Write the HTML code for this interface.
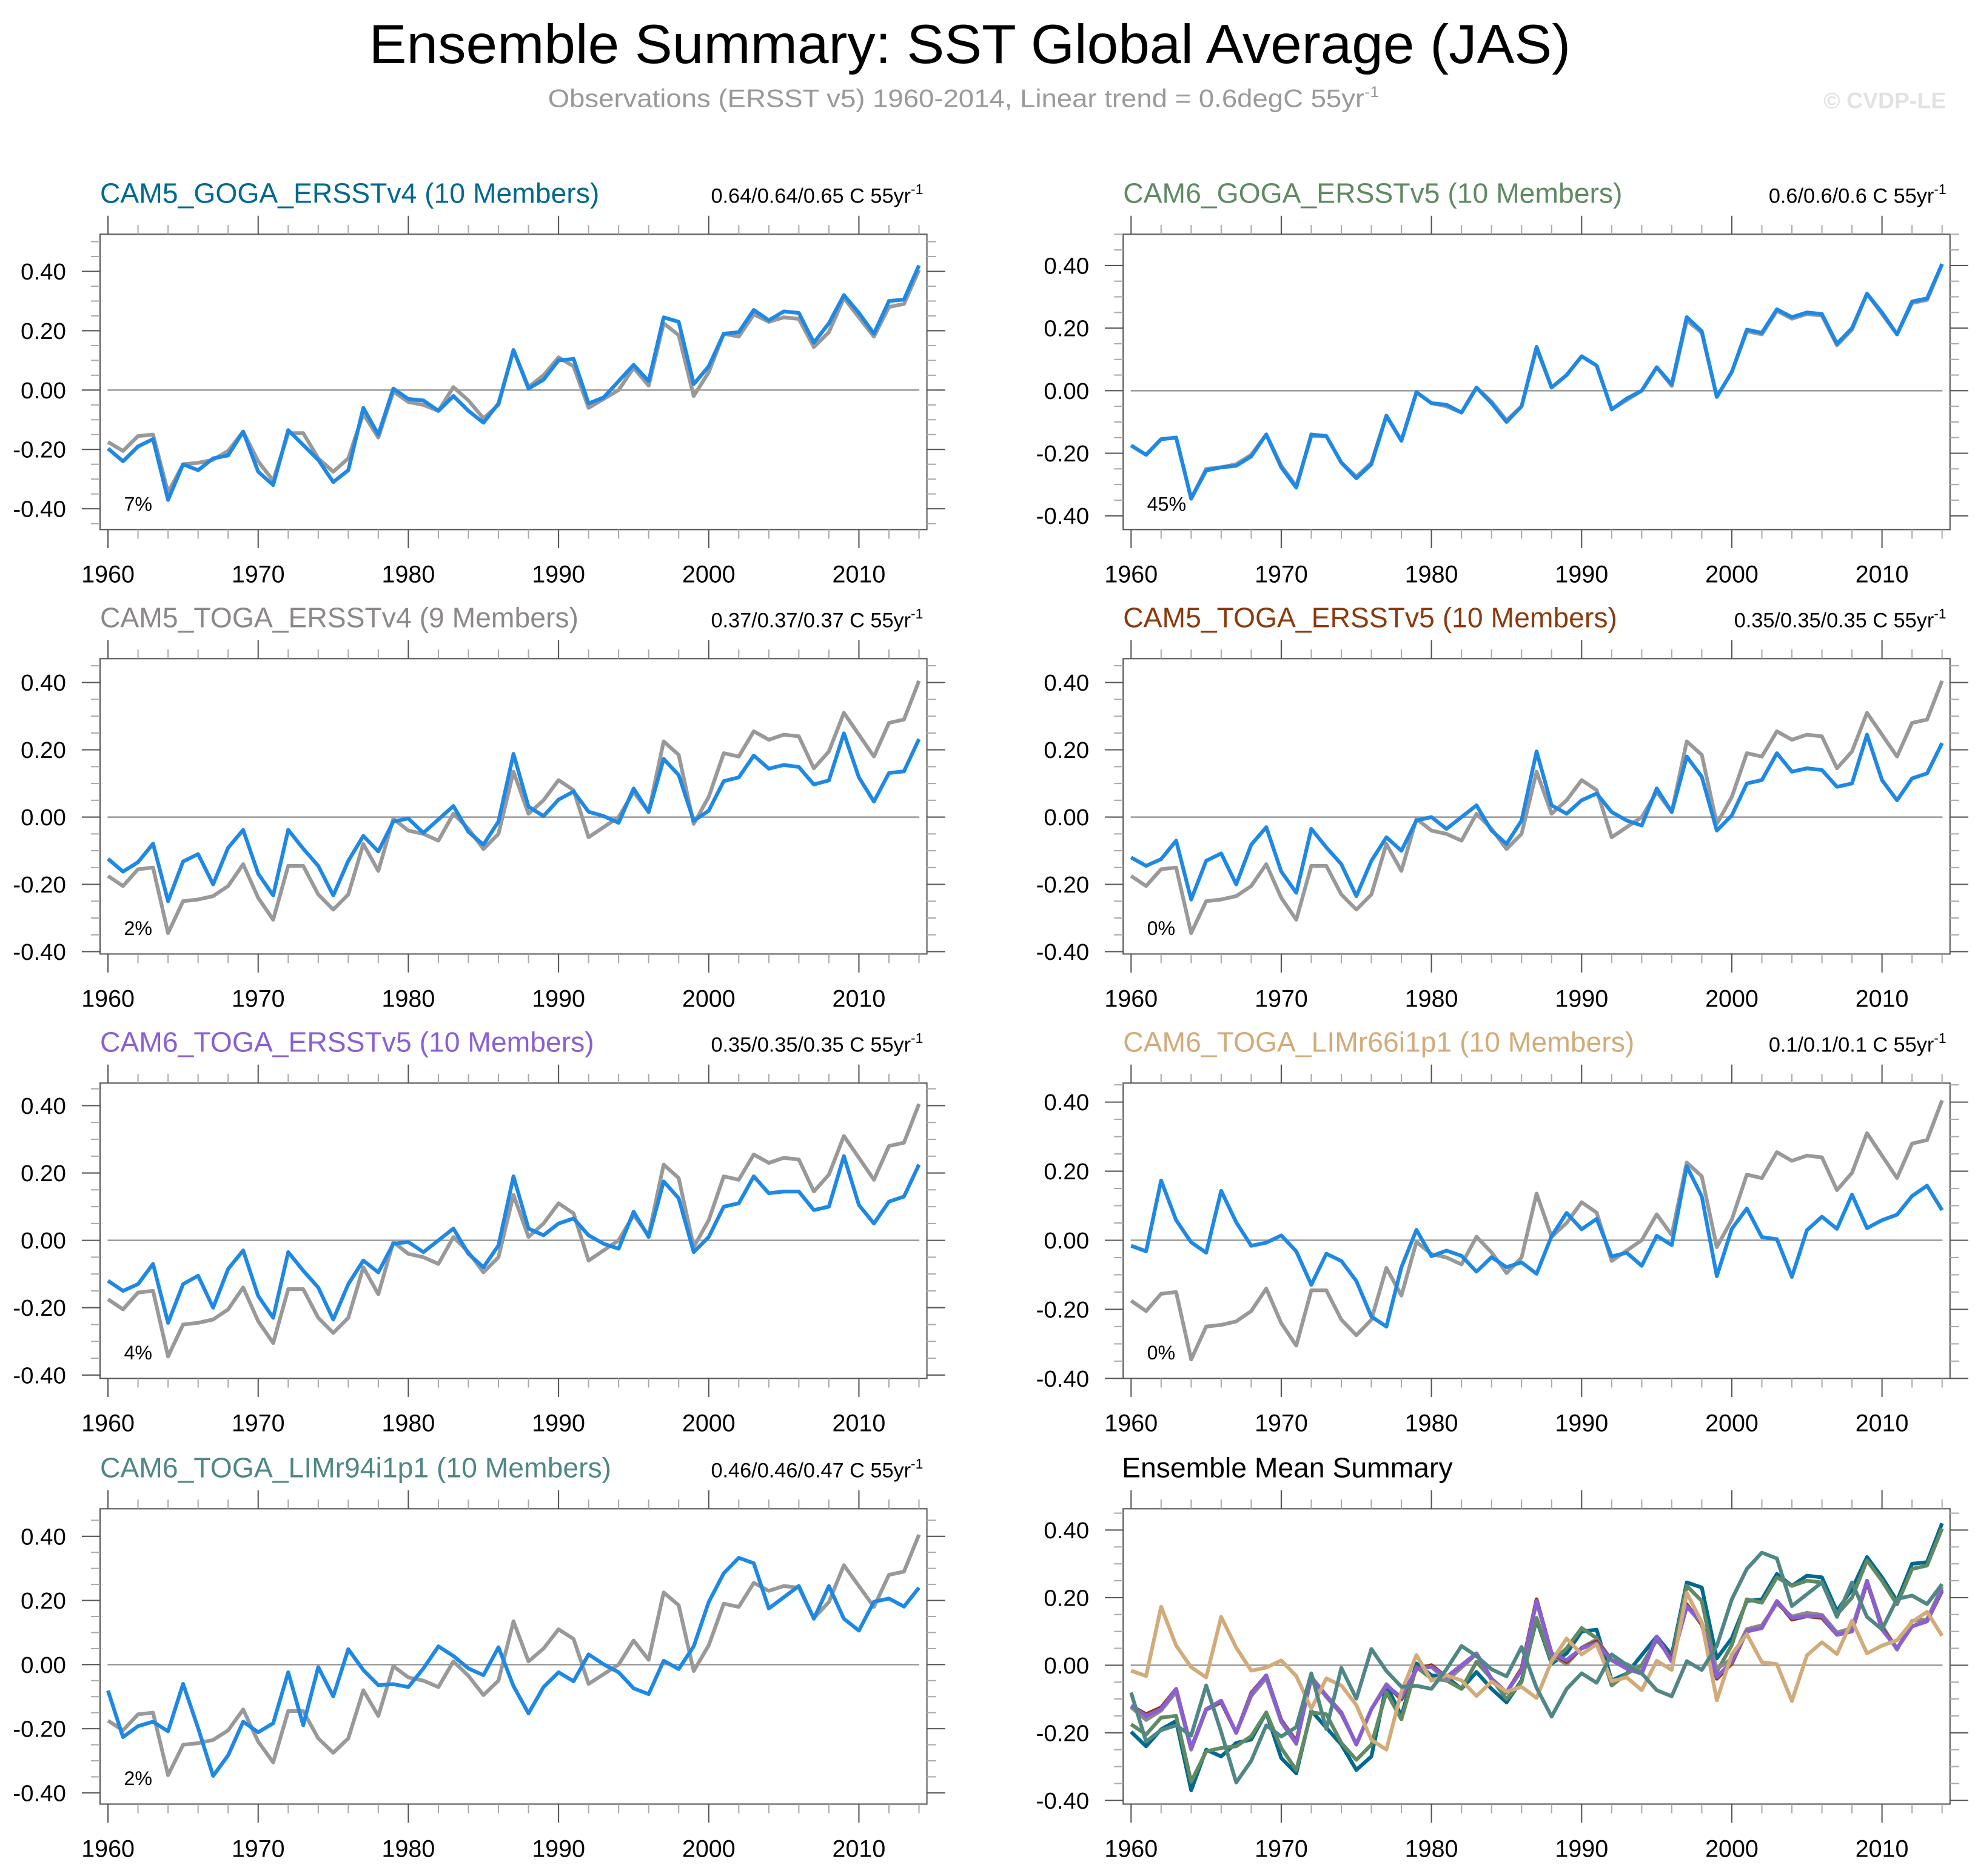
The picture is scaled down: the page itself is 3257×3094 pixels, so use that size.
<!DOCTYPE html>
<html><head><meta charset="utf-8"><style>
html,body{margin:0;padding:0;background:#fff}
svg{display:block}
text{font-family:"Liberation Sans",Arial,sans-serif}
</style></head><body>
<svg id="chart" width="3257" height="3094" viewBox="0 0 1568 1489.6" xmlns="http://www.w3.org/2000/svg">
<rect x="0" y="0" width="1568" height="1489.6" fill="#fff"/>
<text x="770" y="50" font-size="44" text-anchor="middle" textLength="954" lengthAdjust="spacingAndGlyphs">Ensemble Summary: SST Global Average (JAS)</text>
<text x="435" y="85" font-size="20" fill="#999" textLength="660" lengthAdjust="spacingAndGlyphs">Observations (ERSST v5) 1960-2014, Linear trend = 0.6degC 55yr<tspan dy="-8" font-size="12">-1</tspan></text>
<text x="1545" y="86" font-size="18" font-weight="bold" fill="#e2e2e2" text-anchor="end">© CVDP-LE</text>
<g id="panels"></g>
</svg>
<script>
const years = [];
for (let y = 1960; y <= 2014; y++) years.push(y);

const obsValues = [-0.175,-0.205,-0.155,-0.15,-0.345,-0.25,-0.245,-0.235,-0.205,-0.14,-0.24,-0.305,-0.145,-0.145,-0.23,-0.275,-0.23,-0.08,-0.16,-0.005,-0.04,-0.05,-0.07,0.01,-0.035,-0.095,-0.05,0.135,0.01,0.05,0.11,0.08,-0.06,-0.03,0.0,0.075,0.015,0.225,0.185,-0.02,0.06,0.19,0.18,0.255,0.23,0.245,0.24,0.145,0.195,0.31,0.245,0.18,0.28,0.29,0.405];

const cam5GogaV4 = [-0.197,-0.24,-0.19,-0.165,-0.37,-0.25,-0.27,-0.23,-0.22,-0.14,-0.275,-0.32,-0.135,-0.185,-0.235,-0.31,-0.27,-0.06,-0.15,0.005,-0.03,-0.035,-0.07,-0.02,-0.07,-0.11,-0.045,0.135,0.005,0.035,0.1,0.105,-0.045,-0.025,0.03,0.085,0.03,0.245,0.23,0.02,0.08,0.19,0.195,0.27,0.235,0.265,0.26,0.16,0.225,0.32,0.26,0.19,0.3,0.305,0.42];

const cam6GogaV5 = [-0.175,-0.205,-0.155,-0.15,-0.345,-0.255,-0.245,-0.24,-0.21,-0.14,-0.245,-0.31,-0.14,-0.145,-0.23,-0.28,-0.235,-0.08,-0.16,-0.005,-0.04,-0.045,-0.07,0.01,-0.04,-0.1,-0.05,0.14,0.01,0.05,0.11,0.08,-0.06,-0.025,0.0,0.075,0.02,0.235,0.19,-0.02,0.06,0.195,0.185,0.26,0.235,0.25,0.245,0.15,0.2,0.31,0.25,0.18,0.285,0.295,0.405];

const cam5TogaV4 = [-0.124,-0.162,-0.134,-0.079,-0.25,-0.132,-0.11,-0.2,-0.091,-0.038,-0.168,-0.233,-0.038,-0.094,-0.145,-0.233,-0.13,-0.056,-0.102,-0.013,-0.004,-0.047,-0.007,0.033,-0.044,-0.082,-0.013,0.188,0.031,0.003,0.052,0.076,0.016,0.003,-0.017,0.085,0.015,0.173,0.125,-0.011,0.019,0.107,0.118,0.183,0.144,0.155,0.149,0.097,0.109,0.249,0.118,0.046,0.131,0.136,0.232];

const cam5TogaV5 = [-0.12,-0.145,-0.125,-0.07,-0.245,-0.13,-0.108,-0.2,-0.082,-0.03,-0.162,-0.225,-0.035,-0.09,-0.14,-0.235,-0.13,-0.06,-0.1,-0.01,0.0,-0.035,0.0,0.035,-0.04,-0.08,-0.01,0.195,0.035,0.01,0.05,0.07,0.015,-0.01,-0.025,0.085,0.015,0.18,0.12,-0.04,0.005,0.1,0.11,0.19,0.135,0.145,0.14,0.09,0.1,0.245,0.11,0.05,0.115,0.13,0.22];

const cam6TogaV5 = [-0.12,-0.15,-0.13,-0.07,-0.245,-0.13,-0.105,-0.2,-0.085,-0.03,-0.165,-0.23,-0.035,-0.09,-0.14,-0.235,-0.13,-0.06,-0.095,-0.01,-0.005,-0.035,0.0,0.035,-0.04,-0.08,-0.015,0.19,0.035,0.015,0.05,0.065,0.015,-0.01,-0.025,0.085,0.01,0.175,0.125,-0.035,0.01,0.1,0.11,0.19,0.14,0.145,0.145,0.09,0.1,0.25,0.105,0.05,0.115,0.13,0.225];

const limR66 = [-0.016,-0.032,0.173,0.058,-0.006,-0.036,0.143,0.052,-0.016,-0.007,0.014,-0.032,-0.129,-0.039,-0.06,-0.118,-0.221,-0.25,-0.078,0.03,-0.046,-0.03,-0.045,-0.091,-0.049,-0.078,-0.064,-0.097,0.012,0.079,0.032,0.062,-0.047,-0.036,-0.074,0.013,-0.014,0.214,0.127,-0.104,0.033,0.092,0.009,0.003,-0.106,0.029,0.068,0.033,0.132,0.035,0.058,0.074,0.128,0.158,0.087];

const limR94 = [-0.081,-0.226,-0.192,-0.178,-0.208,-0.06,-0.198,-0.347,-0.283,-0.178,-0.211,-0.183,-0.024,-0.189,-0.008,-0.099,0.048,-0.017,-0.064,-0.061,-0.07,-0.012,0.057,0.027,-0.012,-0.033,0.054,-0.067,-0.152,-0.07,-0.024,-0.052,0.032,0.001,-0.024,-0.074,-0.092,0.012,-0.014,0.057,0.195,0.285,0.333,0.316,0.175,0.21,0.245,0.143,0.245,0.143,0.106,0.196,0.206,0.181,0.24];

const yTickValues = [-0.4,-0.2,0.0,0.2,0.4];
const yTickLabels = ["-0.40","-0.20","0.00","0.20","0.40"];
const xTickYears = [1960,1970,1980,1990,2000,2010];

const panelTitles = ["CAM5_GOGA_ERSSTv4 (10 Members)","CAM6_GOGA_ERSSTv5 (10 Members)","CAM5_TOGA_ERSSTv4 (9 Members)","CAM5_TOGA_ERSSTv5 (10 Members)","CAM6_TOGA_ERSSTv5 (10 Members)","CAM6_TOGA_LIMr66i1p1 (10 Members)","CAM6_TOGA_LIMr94i1p1 (10 Members)"];
const panelTrends = ["0.64/0.64/0.65 C 55yr","0.6/0.6/0.6 C 55yr","0.37/0.37/0.37 C 55yr","0.35/0.35/0.35 C 55yr","0.35/0.35/0.35 C 55yr","0.1/0.1/0.1 C 55yr","0.46/0.46/0.47 C 55yr"];
const panelPercents = ["7%","45%","2%","0%","4%","0%","2%"];
const modelSeries = [cam5GogaV4, cam6GogaV5, cam5TogaV4, cam5TogaV5, cam6TogaV5, limR66, limR94];
const modelColors = ["#00698f","#5f8a62","#8c8888","#8b3a0c","#8a5fd4","#d2ab7a","#4f8784"];

const NS = "http://www.w3.org/2000/svg";
const root = document.getElementById("panels");
function mk(tag, attrs, parent) {
  const e = document.createElementNS(NS, tag);
  for (const k in attrs) e.setAttribute(k, attrs[k]);
  (parent || root).appendChild(e);
  return e;
}

const colLeft = [79.4, 891.7];
const boxW = 656.5;
const rowTop = [186, 523, 860, 1198];
const boxH = 234.5;
const yRanges = [[-0.47,0.525],[-0.444,0.5],[-0.407,0.471],[-0.407,0.471],[-0.41,0.467],[-0.4,0.455],[-0.435,0.486],[-0.411,0.463]];

function drawPanel(idx) {
  const col = idx % 2, row = Math.floor(idx / 2);
  const L = colLeft[col], T = rowTop[row], R = L + boxW, B = T + boxH;
  const [ymin, ymax] = yRanges[idx];
  const g = mk("g", {});
  
  
  const x = yr => L + 6.3 + (yr - 1960) * ((boxW - 12.6) / 54);
  const y = v => B - (v - ymin) / (ymax - ymin) * boxH;

  mk("rect", {x: L, y: T, width: boxW, height: boxH, fill: "#fff", stroke: "#555", "stroke-width": 1}, g);
  for (let yr = 1960; yr <= 2014; yr += 2) {
    const major = (yr % 10 === 0);
    const len = major ? 14.7 : 7.3;
    const col2 = major ? "#555" : "#aaa";
    mk("line", {x1: x(yr), x2: x(yr), y1: T, y2: T - len, stroke: col2, "stroke-width": 1}, g);
    mk("line", {x1: x(yr), x2: x(yr), y1: B, y2: B + len, stroke: col2, "stroke-width": 1}, g);
  }
  xTickYears.forEach(yr => {
    const t = mk("text", {x: x(yr), y: B + 42, "font-size": 19, "text-anchor": "middle"}, g);
    
    
    t.textContent = yr;
  });
  for (let k = -10; k <= 12; k++) {
    const v = k * 0.05;
    if (v < ymin - 1e-9 || v > ymax + 1e-9) continue;
    const major = (k % 4 === 0);
    const len = major ? 14.5 : 7.2;
    const col2 = major ? "#555" : "#aaa";
    mk("line", {x1: L, x2: L - len, y1: y(v), y2: y(v), stroke: col2, "stroke-width": 1}, g);
    mk("line", {x1: R, x2: R + len, y1: y(v), y2: y(v), stroke: col2, "stroke-width": 1}, g);
  }
  yTickValues.forEach((v, i) => {
    const t = mk("text", {x: L - 27, y: y(v) + 6.5, "font-size": 18.5, "text-anchor": "end"}, g);
    
    
    t.textContent = yTickLabels[i];
  });
  mk("line", {x1: L + 6, x2: R - 6, y1: y(0), y2: y(0), stroke: "#999", "stroke-width": 1.2}, g);

  const pts = arr => arr.map((v, i) => x(years[i]).toFixed(2) + "," + y(v).toFixed(2)).join(" ");

  if (idx < 7) {
    const ttl = mk("text", {x: L, y: T - 25, "font-size": 22.3, fill: modelColors[idx]}, g);
    
    
    ttl.textContent = panelTitles[idx];
    const tr = mk("text", {x: R - 3, y: T - 25, "font-size": 16.5, "text-anchor": "end"}, g);
    
    
    tr.textContent = panelTrends[idx];
    const sup = mk("tspan", {dy: -7, "font-size": 11}, tr);
    sup.textContent = "-1";

    const ob = mk("polyline", {points: pts(obsValues), fill: "none", stroke: "#999", "stroke-width": 3, "stroke-linejoin": "round"}, g);
    
    
    const md = mk("polyline", {points: pts(modelSeries[idx]), fill: "none", stroke: "#1e88e5", "stroke-width": 3, "stroke-linejoin": "round"}, g);
    
    
    const pc = mk("text", {x: L + 19, y: B - 15, "font-size": 15.5}, g);
    
    
    pc.textContent = panelPercents[idx];
  } else {
    const ttl = mk("text", {x: L - 1, y: T - 25, "font-size": 22.3, fill: "#000"}, g);
    
    
    ttl.textContent = "Ensemble Mean Summary";
    const order = [0, 1, 2, 3, 4, 5, 6];
    order.forEach(m => {
      const ln = mk("polyline", {points: pts(modelSeries[m]), fill: "none", stroke: modelColors[m], "stroke-width": 3, "stroke-linejoin": "round"}, g);
      
      
    });
  }
}
for (let i = 0; i < 8; i++) drawPanel(i);
</script>
</body></html>
